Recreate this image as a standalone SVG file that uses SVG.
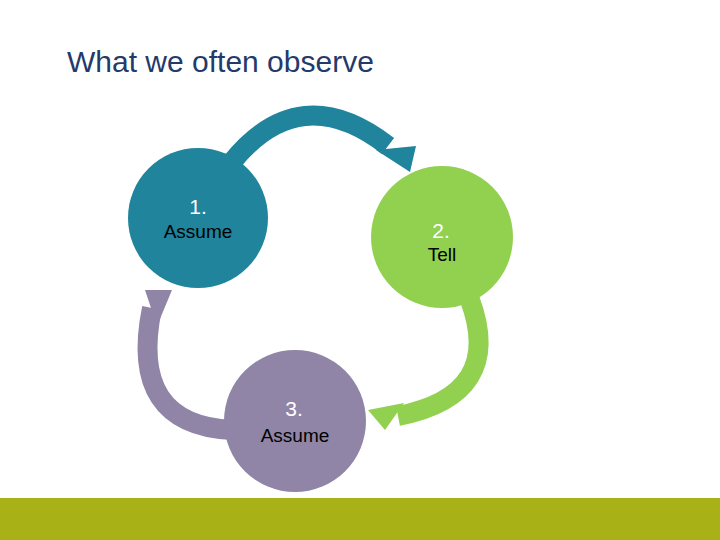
<svg xmlns="http://www.w3.org/2000/svg" width="720" height="540" viewBox="0 0 720 540">
<style>
text{font-family:"Liberation Sans",Arial,sans-serif;text-anchor:middle}
.n{fill:#fff;font-size:21px}
.l{fill:#000;font-size:19px}
.arc{fill:none;stroke-width:20}
</style>
<rect width="720" height="540" fill="#fff"/>
<rect y="498" width="720" height="42" fill="#a8b216"/>
<text x="67" y="72" style="text-anchor:start;font-size:30px;fill:#243a6a">What we often observe</text>
<g id="connectors">
<path class="arc" stroke="#1f849c" d="M232,162 Q300,78 388,146"/>
<polygon fill="#1f849c" points="376,150 416,146 410,172"/>
<path class="arc" stroke="#92d050" d="M470,300 Q505,395 398,416"/>
<polygon fill="#92d050" points="368,410 404,403 385,430"/>
<path class="arc" stroke="#9085a6" d="M232,430 Q128,425 152,308"/>
<polygon fill="#9085a6" points="145,290 172,290 157,326"/>
</g>
<g id="node1"><circle cx="198" cy="218" r="70" fill="#1f849c"/><text class="n" x="198" y="214">1.</text><text class="l" x="198" y="238">Assume</text></g>
<g id="node2"><circle cx="442" cy="237" r="71" fill="#92d050"/><text class="n" x="441" y="238">2.</text><text class="l" x="442" y="261">Tell</text></g>
<g id="node3"><circle cx="295" cy="421" r="71" fill="#9085a6"/><text class="n" x="294" y="416">3.</text><text class="l" x="295" y="442">Assume</text></g>
</svg>
